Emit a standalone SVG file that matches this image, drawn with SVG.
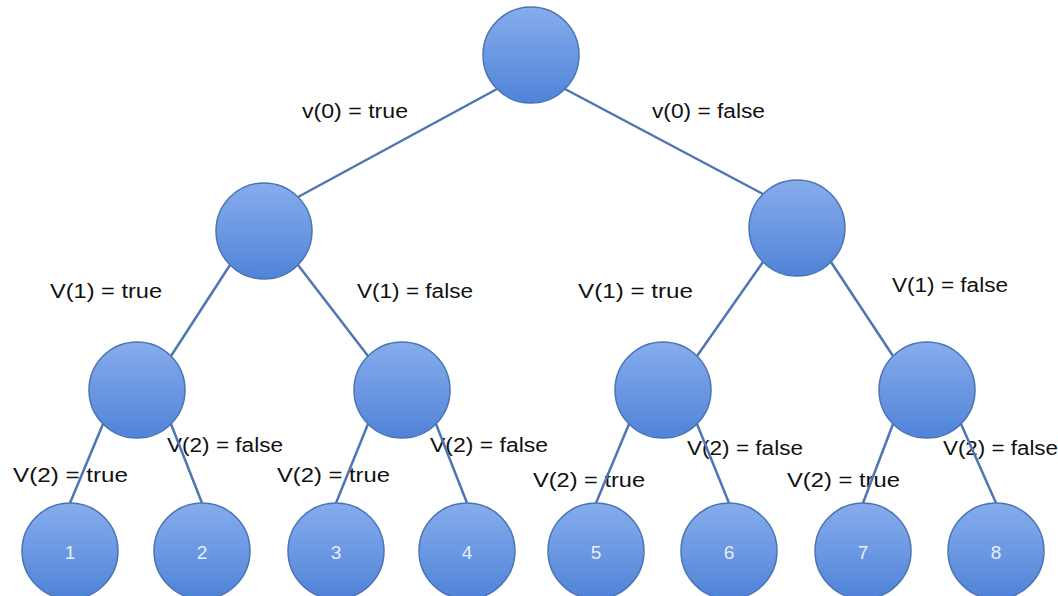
<svg xmlns="http://www.w3.org/2000/svg" width="1058" height="596" viewBox="0 0 1058 596">
  <defs>
    <linearGradient id="ball" x1="0" y1="0" x2="0" y2="1">
      <stop offset="0" stop-color="#86acec"/>
      <stop offset="0.5" stop-color="#6c98e2"/>
      <stop offset="1" stop-color="#4f83d8"/>
    </linearGradient>
    <style>
      .node { fill: url(#ball); stroke: #4a74b4; stroke-width: 1.5; }
      .edge { stroke: #4f76b2; stroke-width: 2.5; fill: none; }
      .lbl { font-family: "Liberation Sans", Arial, sans-serif; font-size: 20px; fill: #111; }
      .num { font-family: "Liberation Sans", Arial, sans-serif; font-size: 19px; fill: #e6eefa; text-anchor: middle; }
    </style>
  </defs>
  <rect width="1058" height="596" fill="#ffffff"/>

  <!-- branch labels -->
  <g id="labels">
    <text class="lbl" x="302" y="118" textLength="106" lengthAdjust="spacingAndGlyphs">v(0) = true</text>
    <text class="lbl" x="652" y="118" textLength="113" lengthAdjust="spacingAndGlyphs">v(0) = false</text>
    <text class="lbl" x="50" y="298" textLength="112" lengthAdjust="spacingAndGlyphs">V(1) = true</text>
    <text class="lbl" x="357" y="298" textLength="116" lengthAdjust="spacingAndGlyphs">V(1) = false</text>
    <text class="lbl" x="578" y="298" textLength="115" lengthAdjust="spacingAndGlyphs">V(1) = true</text>
    <text class="lbl" x="892" y="292" textLength="116" lengthAdjust="spacingAndGlyphs">V(1) = false</text>
    <text class="lbl" x="13" y="482" textLength="115" lengthAdjust="spacingAndGlyphs">V(2) = true</text>
    <text class="lbl" x="167" y="452" textLength="116" lengthAdjust="spacingAndGlyphs">V(2) = false</text>
    <text class="lbl" x="277" y="482" textLength="113" lengthAdjust="spacingAndGlyphs">V(2) = true</text>
    <text class="lbl" x="430" y="452" textLength="118" lengthAdjust="spacingAndGlyphs">V(2) = false</text>
    <text class="lbl" x="533" y="487" textLength="112" lengthAdjust="spacingAndGlyphs">V(2) = true</text>
    <text class="lbl" x="687" y="455" textLength="116" lengthAdjust="spacingAndGlyphs">V(2) = false</text>
    <text class="lbl" x="787" y="487" textLength="113" lengthAdjust="spacingAndGlyphs">V(2) = true</text>
    <text class="lbl" x="943" y="455" textLength="115" lengthAdjust="spacingAndGlyphs">V(2) = false</text>
  </g>

  <!-- connectors -->
  <g id="connectors">
    <line class="edge" x1="497" y1="89" x2="298" y2="197"/>
    <line class="edge" x1="565" y1="89" x2="763" y2="194"/>
    <line class="edge" x1="230" y1="265" x2="171" y2="356"/>
    <line class="edge" x1="298" y1="265" x2="368" y2="356"/>
    <line class="edge" x1="763" y1="262" x2="697" y2="356"/>
    <line class="edge" x1="831" y1="262" x2="893" y2="356"/>
    <line class="edge" x1="103" y1="424" x2="70" y2="503"/>
    <line class="edge" x1="171" y1="424" x2="202" y2="503"/>
    <line class="edge" x1="368" y1="424" x2="336" y2="503"/>
    <line class="edge" x1="436" y1="424" x2="467" y2="503"/>
    <line class="edge" x1="629" y1="424" x2="596" y2="503"/>
    <line class="edge" x1="697" y1="424" x2="729" y2="503"/>
    <line class="edge" x1="893" y1="424" x2="863" y2="503"/>
    <line class="edge" x1="961" y1="424" x2="996" y2="503"/>
  </g>

  <!-- tree nodes -->
  <g id="root"><circle class="node" cx="531" cy="55" r="48"/></g>
  <g id="n-true"><circle class="node" cx="264" cy="231" r="48"/></g>
  <g id="n-false"><circle class="node" cx="797" cy="228" r="48"/></g>
  <g id="n-tt"><circle class="node" cx="137" cy="390" r="48"/></g>
  <g id="n-tf"><circle class="node" cx="402" cy="390" r="48"/></g>
  <g id="n-ft"><circle class="node" cx="663" cy="390" r="48"/></g>
  <g id="n-ff"><circle class="node" cx="927" cy="390" r="48"/></g>

  <g id="leaf1"><circle class="node" cx="70" cy="551" r="48"/><text class="num" x="70" y="559">1</text></g>
  <g id="leaf2"><circle class="node" cx="202" cy="551" r="48"/><text class="num" x="202" y="559">2</text></g>
  <g id="leaf3"><circle class="node" cx="336" cy="551" r="48"/><text class="num" x="336" y="559">3</text></g>
  <g id="leaf4"><circle class="node" cx="467" cy="551" r="48"/><text class="num" x="467" y="559">4</text></g>
  <g id="leaf5"><circle class="node" cx="596" cy="551" r="48"/><text class="num" x="596" y="559">5</text></g>
  <g id="leaf6"><circle class="node" cx="729" cy="551" r="48"/><text class="num" x="729" y="559">6</text></g>
  <g id="leaf7"><circle class="node" cx="863" cy="551" r="48"/><text class="num" x="863" y="559">7</text></g>
  <g id="leaf8"><circle class="node" cx="996" cy="551" r="48"/><text class="num" x="996" y="559">8</text></g>
</svg>
